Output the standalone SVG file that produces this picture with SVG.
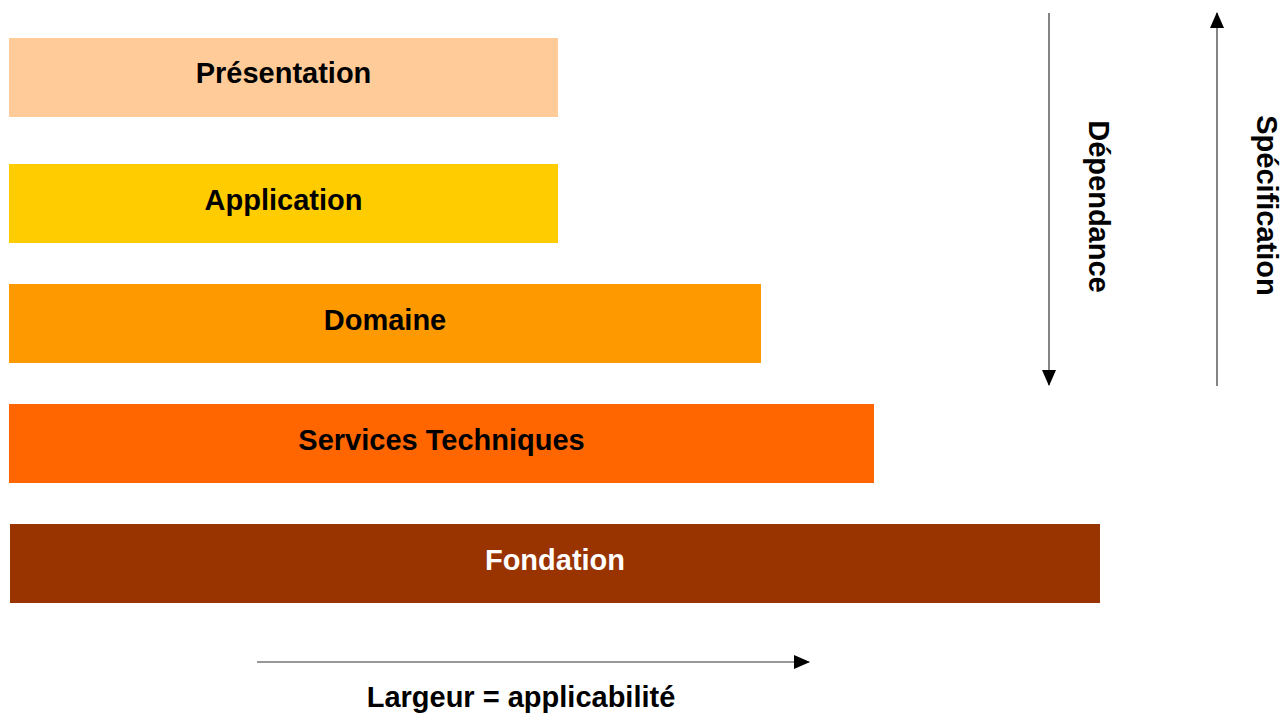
<svg xmlns="http://www.w3.org/2000/svg" width="1288" height="713" viewBox="0 0 1288 713">
<style>
.lbl{font-family:"Liberation Sans",Arial,sans-serif;font-weight:bold;font-size:29px;text-anchor:middle}
.conn{stroke:#333;stroke-width:1.2;fill:none}
</style>
<defs>
<marker id="ah" markerWidth="16" markerHeight="14" refX="15" refY="7" orient="auto" markerUnits="userSpaceOnUse">
<path d="M0,0 L16,7 L0,14 Z" fill="#000"/>
</marker>
</defs>
<rect width="1288" height="713" fill="#fff"/>
<g id="presentation"><rect x="9" y="38" width="549" height="79" fill="#FFCC99"/><text class="lbl" x="283.5" y="83">Présentation</text></g>
<g id="application"><rect x="9" y="164" width="549" height="79" fill="#FFCC00"/><text class="lbl" x="283.5" y="210">Application</text></g>
<g id="domaine"><rect x="9" y="284" width="752" height="79" fill="#FF9900"/><text class="lbl" x="385" y="330">Domaine</text></g>
<g id="services"><rect x="9" y="404" width="865" height="79" fill="#FF6600"/><text class="lbl" x="441.5" y="450">Services Techniques</text></g>
<g id="fondation"><rect x="10" y="524" width="1090" height="79" fill="#993300"/><text class="lbl" x="555" y="570" fill="#fff">Fondation</text></g>
<g id="connectors">
<line class="conn" x1="1049" y1="13" x2="1049" y2="385" marker-end="url(#ah)"/>
<line class="conn" x1="1217" y1="386" x2="1217" y2="13" marker-end="url(#ah)"/>
<line class="conn" x1="257" y1="662" x2="809" y2="662" marker-end="url(#ah)"/>
</g>
<text class="lbl" transform="translate(1089,206.5) rotate(90)">Dépendance</text>
<text class="lbl" transform="translate(1257,205.5) rotate(90)">Spécification</text>
<text class="lbl" x="521" y="707">Largeur = applicabilité</text>
</svg>
